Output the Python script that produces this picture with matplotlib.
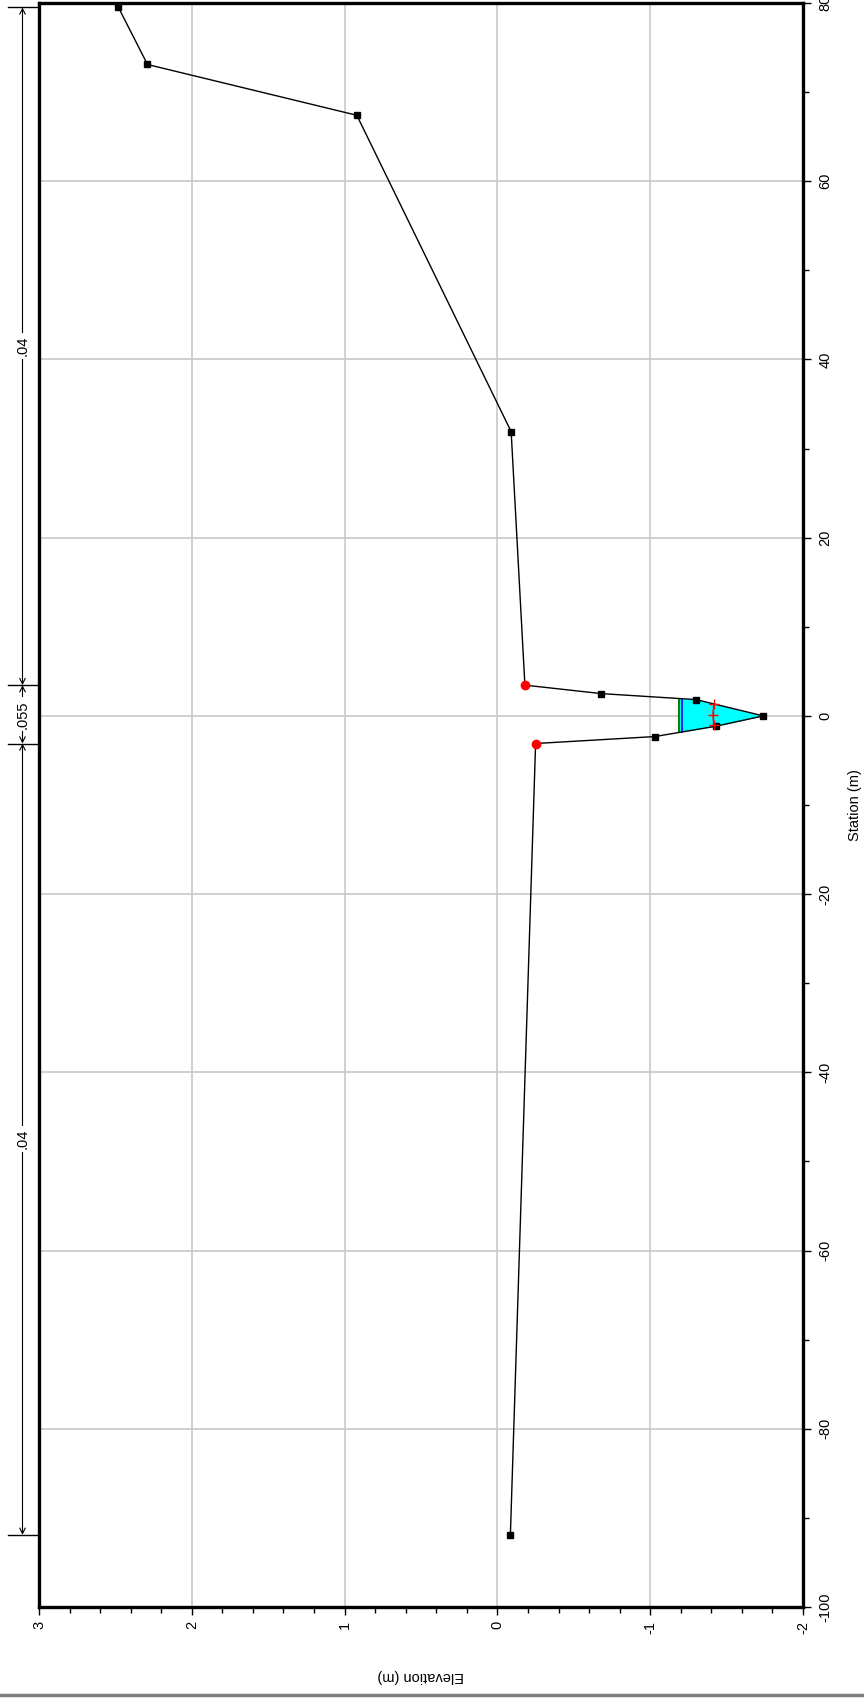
import numpy as np
import matplotlib
matplotlib.use("Agg")
import matplotlib.pyplot as plt
from matplotlib.ticker import MultipleLocator
from matplotlib.lines import Line2D
import matplotlib.transforms as mtransforms

plt.rcParams["font.family"] = ["Liberation Sans", "DejaVu Sans"]
plt.rcParams["axes.unicode_minus"] = False

# ground profile (station m, elevation m)
station = [79.5, 73.1, 67.4, 31.9, 3.45, 2.50, 1.83, 0.0, -1.16, -2.32, -3.1, -91.9]
elevation = [2.48, 2.29, 0.92, -0.09, -0.18, -0.68, -1.30, -1.74, -1.43, -1.03, -0.25, -0.085]
bank_station = [3.45, -3.1]
bank_elevation = [-0.18, -0.25]

# water surface
ws_elev = -1.19
ws_elev_blue = -1.205

# red crosses in channel
cross_station = [1.31, 0.1, -1.04]
cross_elev = [-1.415, -1.41, -1.415]

# Manning's n regions
n_bounds = [79.5, 3.45, -3.1, -91.9]
n_values = [".04", ".055", ".04"]

fig = plt.figure(figsize=(8.64, 16.98), dpi=100)
ax = fig.add_axes([39 / 864, 1 - 1607 / 1698, 764 / 864, 1604 / 1698])

sta = np.array(station)
elev = np.array(elevation)

# water fill
ax.fill_betweenx(sta, elev, ws_elev, where=elev <= ws_elev, interpolate=True,
                 color="cyan", zorder=2, lw=0)

# water surface line endpoints (channel only)
ch = slice(5, 10)
s_ch, e_ch = sta[ch], elev[ch]
imin = np.argmin(e_ch)
s_right = np.interp(ws_elev, e_ch[:imin + 1][::-1], s_ch[:imin + 1][::-1])
s_left = np.interp(ws_elev, e_ch[imin:], s_ch[imin:])
ax.plot([ws_elev, ws_elev], [s_left, s_right], color="green", lw=1.5, zorder=3)
ax.plot([ws_elev_blue, ws_elev_blue], [s_left, s_right], color="blue", lw=1.2, zorder=3)

# ground line
ax.plot(elev, sta, color="black", lw=1.0, zorder=4)
mask = np.isin(sta, bank_station)
ax.plot(elev[~mask], sta[~mask], "s", color="black", ms=5, zorder=5)
ax.plot(bank_elevation, bank_station, "o", color="red", ms=6, zorder=5)

ax.plot(cross_elev, cross_station, color="red", lw=0.8, zorder=5)
ax.plot(cross_elev, cross_station, "+", color="red", ms=7, mew=1.0, zorder=6)

ax.set_xlim(3, -2)
ax.set_ylim(-100, 80)

ax.xaxis.set_major_locator(MultipleLocator(1))
ax.xaxis.set_minor_locator(MultipleLocator(0.2))
ax.yaxis.set_major_locator(MultipleLocator(20))
ax.yaxis.set_minor_locator(MultipleLocator(10))
ax.yaxis.tick_right()
ax.yaxis.set_label_position("right")
ax.tick_params(which="major", direction="out", length=6, width=1, labelsize=10.5)
ax.tick_params(which="minor", direction="out", length=4, width=1)
ax.tick_params(axis="y", which="both", left=False, right=True)
ax.tick_params(axis="y", pad=5)
ax.tick_params(axis="x", pad=4)
for lab in ax.get_yticklabels():
    lab.set_rotation(90)
    lab.set_va("center")
    lab.set_ha("left")
for lab in ax.get_xticklabels():
    lab.set_rotation(90)
    lab.set_ha("center")
    lab.set_va("top")

ax.grid(True, which="major", color="#c8c8c8", lw=1.2, zorder=0)
ax.set_axisbelow(True)
for sp in ax.spines.values():
    sp.set_linewidth(2.4)

ylab = ax.set_ylabel("Station (m)", rotation=90, fontsize=10.5)
ylab.set_ha("center")
ylab.set_va("center")
ax.yaxis.set_label_coords((855 - 39) / 764, 0.5)
xlab = ax.set_xlabel("Elevation (m)", rotation=180, fontsize=10.5)
xlab.set_ha("center")
xlab.set_va("center")
ax.xaxis.set_label_coords(0.5, -(1676 - 1607) / 1604)

# Manning's n annotation on the left
trans = mtransforms.blended_transform_factory(ax.transAxes, ax.transData)
x_line = -0.0216
for b in n_bounds:
    ax.plot([-0.041, 0.0], [b, b], color="black", lw=1.0, transform=trans, clip_on=False)
for i, n in enumerate(n_values):
    top, bot = n_bounds[i], n_bounds[i + 1]
    ax.annotate("", xy=(x_line, top), xytext=(x_line, bot), xycoords=trans, textcoords=trans,
                arrowprops=dict(arrowstyle="<->", color="black", lw=0.8, shrinkA=0, shrinkB=0,
                                mutation_scale=10))
    ax.text(x_line, (top + bot) / 2, n, transform=trans, rotation=90, ha="center", va="center",
            fontsize=10.5, bbox=dict(facecolor="white", edgecolor="none", pad=2), clip_on=False)

fig.add_artist(Line2D([0, 1], [1 - 1695 / 1698, 1 - 1695 / 1698], color="#808080", lw=2.5,
                      transform=fig.transFigure))

fig.savefig("out.png", dpi=100)
